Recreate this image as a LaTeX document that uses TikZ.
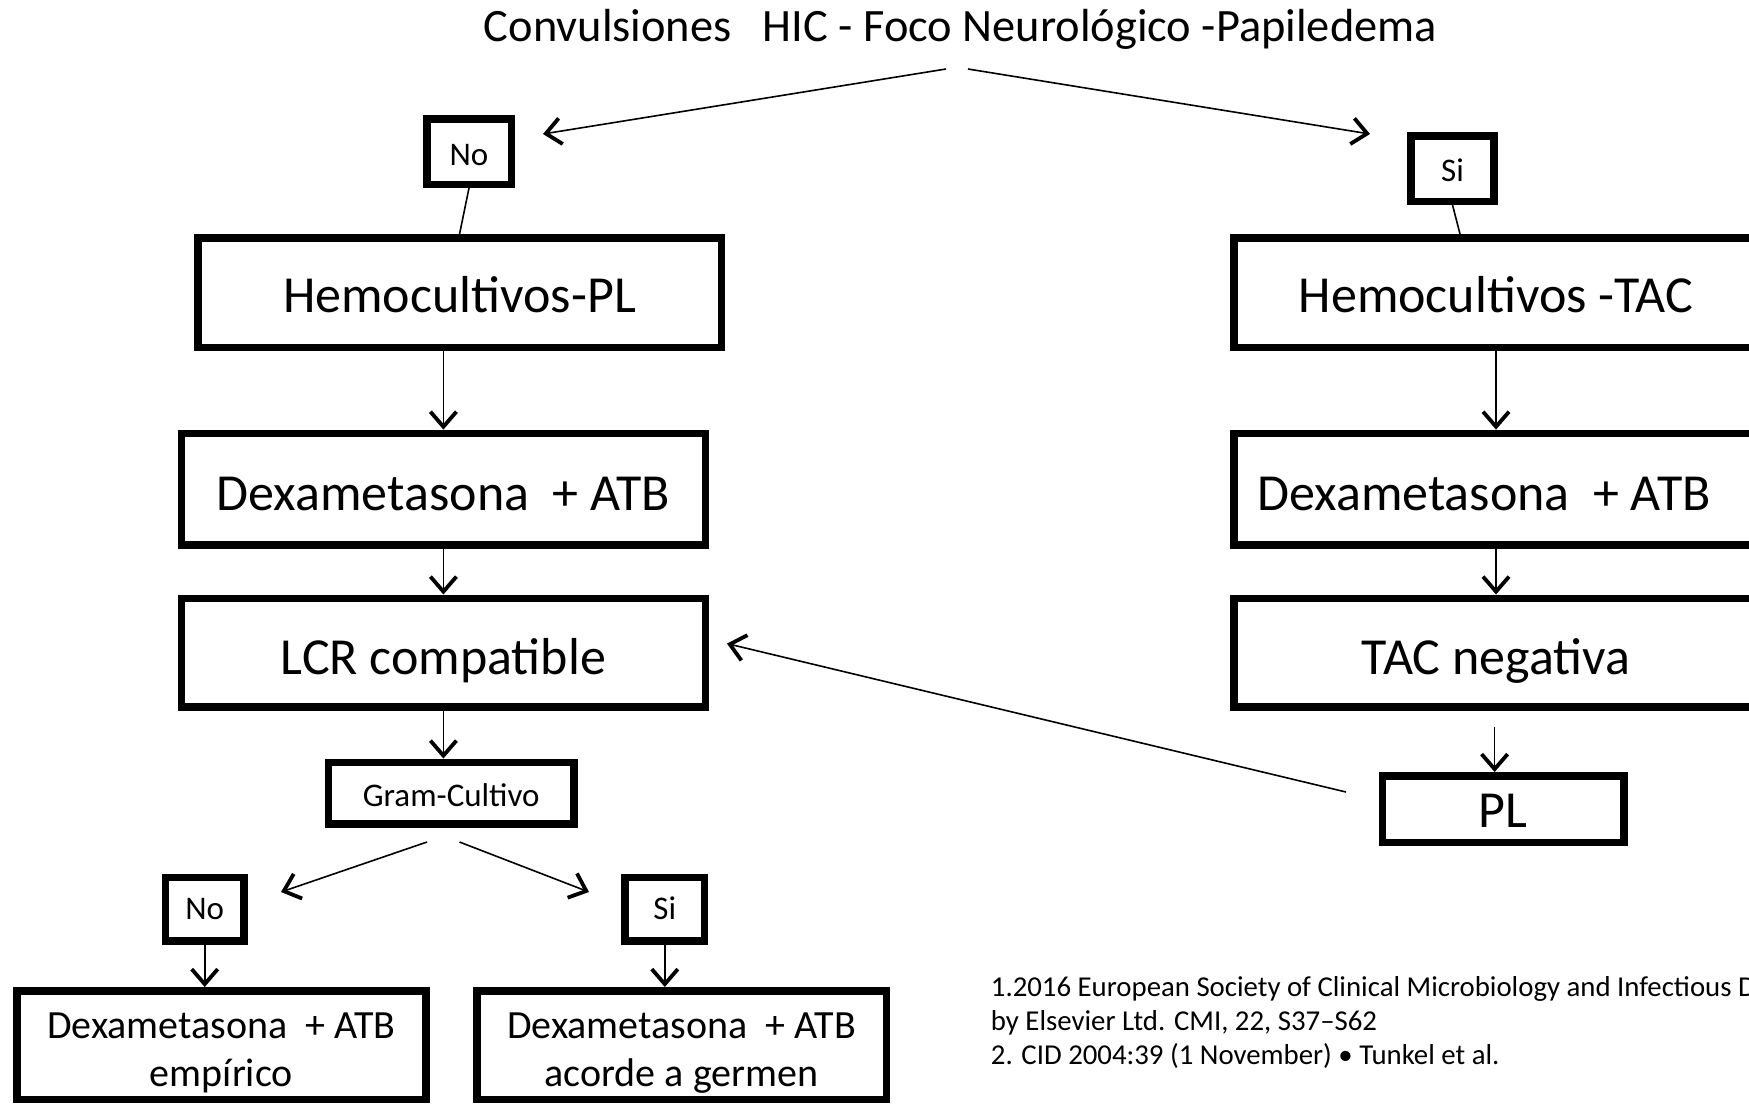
\documentclass[tikz,border=0pt]{standalone}
\usepackage{fontspec}
\setmainfont{Carlito}
\usetikzlibrary{arrows.meta,calc}
\newcommand\txtdown[2]{\raisebox{-#1}[\height][\depth]{\begin{tabular}{@{}c@{}}#2\end{tabular}}}
\begin{document}
\begin{tikzpicture}[x=0.5pt,y=-0.5pt,
  box/.style={draw, line width=3.75pt, inner sep=0pt},
  bigbox/.style={box, minimum width=262pt, minimum height=55pt, font=\fontsize{26}{30}\selectfont},
  smallbox/.style={box, minimum width=40pt, minimum height=32pt, font=\fontsize{16.5}{19}\selectfont},
  lowbox/.style={box, minimum width=204.5pt, minimum height=54.25pt, font=\fontsize{20}{24}\selectfont},
  conn/.style={line width=0.8pt, -{Straight Barb[length=7.5pt,width=13pt,line width=1.9pt]}},
  thinline/.style={line width=0.8pt},
]
\useasboundingbox (0,0) rectangle (1749,1105);
\clip (0,0) rectangle (1749,1105);

% title
\node[font=\fontsize{23.2}{27}\selectfont] (title) at (960.5,29.5) {Convulsiones\ \ \ HIC - Foco Neurológico -Papiledema};

% top decisions
\node[smallbox, minimum width=42.25pt, minimum height=32.75pt] (noT) at (469,151.5) {\txtdown{3pt}{No}};
\node[smallbox, minimum width=41.5pt, minimum height=32.75pt] (siT) at (1452.5,168.5) {\txtdown{2.5pt}{Si}};

% left column
\node[bigbox, minimum width=261.75pt, minimum height=54.75pt] (hemoL) at (459.5,292.8) {\txtdown{4pt}{Hemocultivos-PL}};
\node[bigbox, minimum height=55.75pt] (dexaL) at (443.4,489.1) {\txtdown{4.5pt}{Dexametasona\ \ + ATB}};
\node[bigbox, minimum height=54.25pt] (lcr) at (443.4,652.5) {\txtdown{5pt}{LCR compatible}};
\node[smallbox, minimum width=122.75pt, minimum height=30.75pt] (gram) at (451.2,793) {\txtdown{3pt}{Gram-Cultivo}};
\node[smallbox, minimum width=39.25pt, minimum height=31.75pt] (noB) at (204.7,909) {\txtdown{1.5pt}{No}};
\node[smallbox, minimum width=39.75pt, minimum height=31.75pt] (siB) at (664.8,909) {\txtdown{1.5pt}{Si}};
\node[lowbox] (botL) at (221.4,1045) {\txtdown{4pt}{Dexametasona\ \ + ATB\\empírico}};
\node[lowbox, minimum width=204.75pt] (botR) at (681.5,1045) {\txtdown{4pt}{Dexametasona\ \ + ATB\\acorde a germen}};

% right column
\node[bigbox, minimum height=54.75pt] (hemoR) at (1496,292.8) {\txtdown{4pt}{Hemocultivos -TAC}};
\node[bigbox, minimum height=55.75pt] (dexaR) at (1496,489.1) {\txtdown{4.5pt}{Dexametasona\ \ + ATB\hspace*{12pt}}};
\node[bigbox, minimum height=54.25pt] (tacneg) at (1496,652.5) {\txtdown{5pt}{TAC negativa}};
\node[box, minimum width=120.75pt, minimum height=33.25pt, font=\fontsize{26}{30}\selectfont] (pl) at (1503,809) {\txtdown{3pt}{PL}};

% footnote
\node[anchor=west, align=left, inner sep=0pt, font=\fontsize{14.4}{16.8}\selectfont] (refs) at (990.5,1022.5)
  {1.2016 European Society of Clinical Microbiology and Infectious Diseases. Published\\
   by Elsevier Ltd. CMI, 22, S37–S62\\
   2. CID 2004:39 (1 November) • Tunkel et al.};

% free ends
\coordinate (tL) at (946,69);
\coordinate (tR) at (968,69);
\coordinate (tLend) at (543,134);
\coordinate (tRend) at (1370,134);
\coordinate (siTend) at (1460,234);
\coordinate (gL) at (427,842);
\coordinate (gR) at (459.5,842);
\coordinate (gLend) at (281,892);
\coordinate (gRend) at (589,892);
\coordinate (plStart) at (1346,792);
\coordinate (lcrEnd) at (727,643.6);
\coordinate (tacStart) at (1494.6,727);

% connectors
\draw[conn] (tL) -- (tLend);
\draw[conn] (tR) -- (tRend);
\draw[thinline] (noT.south) -- (hemoL.north);
\draw[thinline] (siT.south) -- (siTend);

\draw[conn] (hemoL.south -| dexaL.north) -- (dexaL.north);
\draw[conn] (dexaL.south) -- (lcr.north);
\draw[conn] (lcr.south) -- (lcr.south |- gram.north);
\draw[conn] (gL) -- (gLend);
\draw[conn] (gR) -- (gRend);
\draw[conn] (noB.south) -- (noB.south |- botL.north);
\draw[conn] (siB.south) -- (siB.south |- botR.north);

\draw[conn] (hemoR.south) -- (dexaR.north);
\draw[conn] (dexaR.south) -- (tacneg.north);
\draw[conn] (tacStart) -- (tacStart |- pl.north);
\draw[conn] (plStart) -- (lcrEnd);
\end{tikzpicture}
\end{document}
